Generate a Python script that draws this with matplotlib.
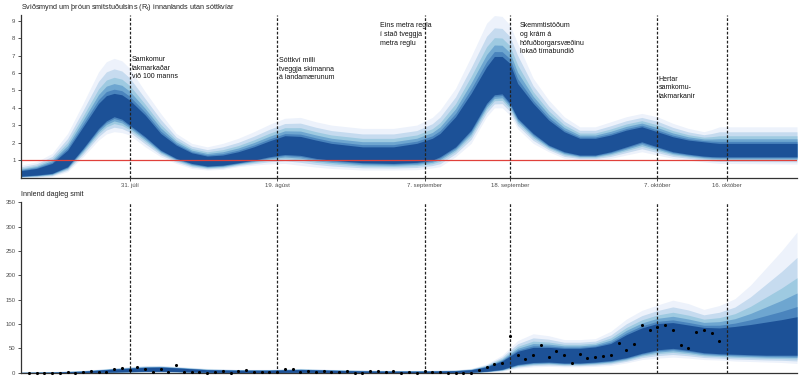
import numpy as np
import pandas as pd
import matplotlib
matplotlib.use("Agg")
import matplotlib.pyplot as plt

plt.rcParams['font.family'] = ['Liberation Sans', 'DejaVu Sans']

start = pd.Timestamp('2020-07-17')
end = pd.Timestamp('2020-10-25')

# --- R_t fan (days after 17 July) ---
rt_days = [0, 2, 4, 6, 8, 10, 11, 12, 13, 14, 16, 18, 20, 22, 24, 26, 28, 30, 32, 34, 36, 38,
           40, 44, 48, 51, 53, 54, 56, 58, 60, 61, 62, 63, 64, 66, 68, 70, 72, 74, 76,
           78, 80, 82, 84, 86, 88, 89, 90, 100]
rt_dark_lo = [0.08, 0.14, 0.24, 0.62, 1.67, 2.82, 3.25, 3.49, 3.35, 3.01, 2.34, 1.57, 1.10, 0.81, 0.66, 0.71,
              0.85, 1.00, 1.19, 1.32, 1.27, 1.10, 1.00, 0.85, 0.81, 0.87, 1.00, 1.19, 1.76, 2.72,
              4.26, 4.75, 4.80, 4.26, 3.40, 2.53, 1.86, 1.48, 1.29, 1.29, 1.48, 1.76, 2.05, 1.76,
              1.48, 1.34, 1.23, 1.20, 1.19, 1.19]
rt_dark_hi = [0.39, 0.52, 0.81, 1.57, 2.91, 4.26, 4.70, 4.83, 4.75, 4.45, 3.59, 2.53, 1.86, 1.42, 1.23, 1.29,
              1.48, 1.76, 2.10, 2.40, 2.36, 2.15, 1.96, 1.76, 1.76, 1.96, 2.25, 2.53, 3.49, 4.83,
              6.36, 6.95, 6.95, 6.56, 5.40, 4.26, 3.30, 2.63, 2.25, 2.25, 2.44, 2.72, 2.91, 2.63,
              2.34, 2.15, 2.05, 2.00, 1.96, 1.96]
rt_out_lo = [0.00, 0.00, 0.05, 0.33, 1.19, 2.15, 2.50, 2.63, 2.58, 2.44, 1.76, 1.19, 0.81, 0.52, 0.43, 0.47,
             0.62, 0.71, 0.78, 0.81, 0.70, 0.60, 0.52, 0.43, 0.43, 0.45, 0.55, 0.62, 1.19, 1.96,
             3.49, 4.00, 4.00, 3.59, 2.80, 1.96, 1.48, 1.10, 1.00, 1.00, 1.10, 1.29, 1.48, 1.29,
             1.10, 1.00, 0.90, 0.85, 0.81, 0.77]
rt_out_hi = [0.71, 0.90, 1.38, 2.53, 4.26, 6.07, 6.65, 6.84, 6.70, 6.27, 4.93, 3.68, 2.53, 1.96, 1.76, 1.96,
             2.25, 2.63, 3.05, 3.40, 3.45, 3.20, 3.01, 2.82, 2.82, 3.01, 3.45, 3.87, 5.12, 6.94,
             8.86, 9.30, 9.25, 8.76, 7.70, 5.70, 4.45, 3.49, 2.91, 2.91, 3.20, 3.49, 3.68, 3.49,
             3.11, 2.82, 2.63, 2.75, 2.91, 2.91]

# --- daily cases fan ---
cs_days = [0, 4, 8, 12, 16, 18, 20, 24, 28, 32, 36, 40, 44, 48, 52, 56, 58, 60, 62, 64, 66,
           68, 70, 72, 74, 76, 78, 80, 82, 84, 86, 88, 90, 92, 94, 96, 98, 100]
cs_dark_lo = [0, 0, 0.3, 1.5, 3, 3, 2.5, 1, 0.5, 0.5, 1, 0.5, 0.3, 0.3, 0.3, 0.5, 1, 3, 7, 17, 21,
              22, 20, 20, 22, 25, 31, 40, 47, 50, 46, 41, 39, 38, 37, 36, 36, 36]
cs_dark_hi = [0.5, 1, 3, 7.5, 11, 11.5, 10, 6, 5, 5, 6.5, 5, 3.5, 3, 3, 4, 6, 12, 24, 44, 52,
              52, 50, 50, 53, 60, 78, 92, 101, 103, 98, 93, 92, 95, 99, 104, 109, 115]
cs_out_lo = [0, 0, 0, 0.5, 1, 1, 1, 0, 0, 0, 0, 0, 0, 0, 0, 0, 0, 1, 3, 9, 12,
             13, 12, 12, 13, 15, 20, 27, 30, 32, 30, 27, 26, 24, 23, 22, 21, 19]
cs_out_hi = [1.5, 2.5, 5, 10, 15, 15, 13, 9, 7, 7, 9, 7, 6, 5, 5, 6, 9, 18, 36, 66, 80,
             76, 68, 68, 70, 85, 110, 128, 139, 149, 142, 130, 138, 152, 180, 215, 250, 289]

# observed daily domestic cases, 18 July - 15 October
obs_start = pd.Timestamp('2020-07-18')
obs_cases = [0, 0, 0, 0, 0, 1, 0, 1, 4, 2, 2, 8, 10, 6,
             12, 7, 1, 7, 1, 15, 1, 1, 1, 0, 1, 4, 0, 4, 6, 1, 1, 1, 1, 8, 7, 1, 4, 1, 4,
             1, 1, 3, 0, 0, 3,
             3, 1, 3, 0, 1, 0, 3, 1, 1, 0, 0, 0, 0, 5, 12, 18, 19, 75, 37, 29, 36, 56, 32,
             44, 37, 20, 38, 31, 32, 35,
             36, 60, 46, 58, 98, 87, 94, 98, 87, 57, 50, 83, 87, 81, 66]

event_dates = ['2020-07-31', '2020-08-19', '2020-09-07', '2020-09-18', '2020-10-07', '2020-10-16']
event_labels = ['31. júlí', '19. ágúst', '7. september', '18. september', '7. október', '16. október']
event_notes = ['Samkomur\ntakmarkaðar\nvið 100 manns',
               'Sóttkví milli\ntveggja skimanna\ná landamærunum',
               'Eins metra regla\ní stað tveggja\nmetra reglu',
               'Skemmtistöðum\nog krám á\nhöfuðborgarsvæðinu\nlokað tímabundið',
               'Hertar\nsamkomu-\ntakmarkanir']
note_pos = [('2020-07-31 06:00', 6.95), ('2020-08-19 06:00', 6.9), ('2020-09-01 06:00', 8.9),
            ('2020-09-19 06:00', 8.9), ('2020-10-07 04:00', 5.85)]

band_frac = [1.0, 0.70, 0.46, 0.28, 0.12]
band_cols = ['#edf2fb', '#c6dbef', '#9ecae1', '#6ea6d0', '#4a84bd']
dark_col = '#1c5197'


def draw_fan(ax, days, dlo, dhi, olo, ohi):
    t = start + pd.to_timedelta(days, unit='D')
    dlo, dhi, olo, ohi = map(np.asarray, (dlo, dhi, olo, ohi))
    for f, c in zip(band_frac, band_cols):
        ax.fill_between(t, dlo - f * (dlo - olo), dhi + f * (ohi - dhi), color=c, lw=0)
    ax.fill_between(t, dlo, dhi, color=dark_col, lw=0)


def style_ax(ax):
    for s in ['top', 'right']:
        ax.spines[s].set_visible(False)
    for s in ['left', 'bottom']:
        ax.spines[s].set_color('#333333')
        ax.spines[s].set_linewidth(0.9)
    ax.tick_params(labelsize=4.3, labelcolor='#4d4d4d', length=2, width=0.6, color='#333333', pad=2)
    ax.set_xlim(start, end)


fig = plt.figure(figsize=(8, 3.78), dpi=100)
ax1 = fig.add_axes([0.02625, 0.5304, 0.97, 0.4299])
ax2 = fig.add_axes([0.02625, 0.0140, 0.97, 0.4508])

# top: R_t
draw_fan(ax1, rt_days, rt_dark_lo, rt_dark_hi, rt_out_lo, rt_out_hi)
ax1.axhline(1, color='#e0403a', lw=0.9)
ax1.set_ylim(0, 9.33)
ax1.set_yticks(range(1, 10))
ev = pd.to_datetime(event_dates)
ax1.set_xticks(ev)
ax1.set_xticklabels(event_labels)
style_ax(ax1)
for d in ev:
    ax1.axvline(d, color='#222222', lw=0.9, ls=(0, (2.2, 1.4)))
for (d, y), txt in zip(note_pos, event_notes):
    ax1.text(pd.Timestamp(d), y, txt, fontsize=5.0, va='top',
             ha='left', color='#111111', linespacing=1.3)
fig.text(0.02625, 0.982, 'Sviðsmynd um þróun smitstuðulsins (R$_\\mathregular{t}$) innanlands utan sóttkvíar',
         fontsize=5.2, color='#222222', va='center')

# bottom: daily cases
draw_fan(ax2, cs_days, cs_dark_lo, cs_dark_hi, cs_out_lo, cs_out_hi)
obs_t = obs_start + pd.to_timedelta(np.arange(len(obs_cases)), unit='D')
ax2.scatter(obs_t, obs_cases, s=5, color='black', zorder=5, lw=0, clip_on=False)
ax2.set_ylim(0, 350)
ax2.set_yticks(range(0, 351, 50))
ax2.set_xticks([])
style_ax(ax2)
for d in ev:
    ax2.axvline(d, color='#222222', lw=0.9, ls=(0, (2.2, 1.4)))
fig.text(0.02625, 0.485, 'Innlend dagleg smit', fontsize=5.2, color='#222222', va='center')

fig.savefig('out.png', dpi=100)
